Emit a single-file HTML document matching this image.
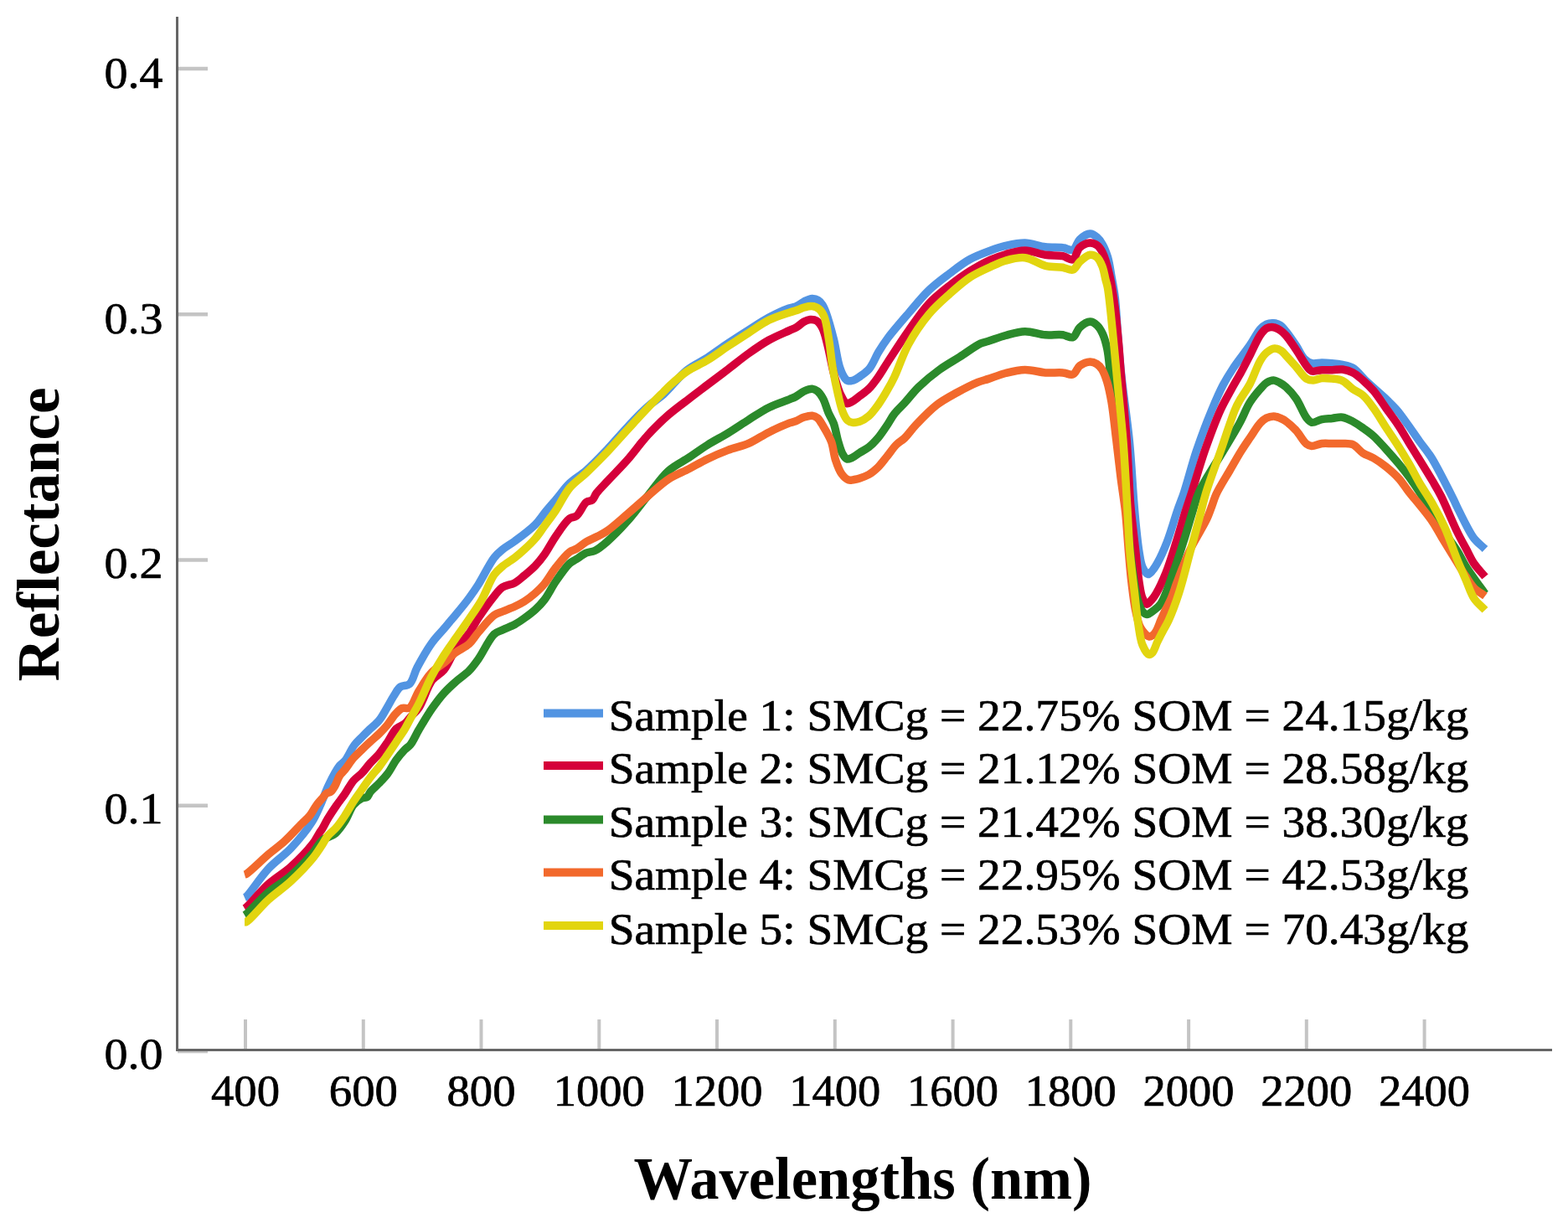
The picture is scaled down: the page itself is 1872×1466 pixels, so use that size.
<!DOCTYPE html>
<html><head><meta charset="utf-8"><title>Reflectance spectra</title>
<style>html,body{margin:0;padding:0;background:#fff;}svg{display:block;}</style></head>
<body><svg width="1872" height="1466" viewBox="0 0 1872 1466">
<rect width="1872" height="1466" fill="#fff"/>
<g fill="none">
<line x1="212" y1="1254.9" x2="248" y2="1254.9" stroke="#c4c4c4" stroke-width="4.5"/>
<line x1="212" y1="961.7" x2="248" y2="961.7" stroke="#c4c4c4" stroke-width="4.5"/>
<line x1="212" y1="668.5" x2="248" y2="668.5" stroke="#c4c4c4" stroke-width="4.5"/>
<line x1="212" y1="375.3" x2="248" y2="375.3" stroke="#c4c4c4" stroke-width="4.5"/>
<line x1="212" y1="82.1" x2="248" y2="82.1" stroke="#c4c4c4" stroke-width="4.5"/>
<line x1="293.0" y1="1217" x2="293.0" y2="1253" stroke="#c4c4c4" stroke-width="4"/>
<line x1="433.8" y1="1217" x2="433.8" y2="1253" stroke="#c4c4c4" stroke-width="4"/>
<line x1="574.5" y1="1217" x2="574.5" y2="1253" stroke="#c4c4c4" stroke-width="4"/>
<line x1="715.3" y1="1217" x2="715.3" y2="1253" stroke="#c4c4c4" stroke-width="4"/>
<line x1="856.0" y1="1217" x2="856.0" y2="1253" stroke="#c4c4c4" stroke-width="4"/>
<line x1="996.8" y1="1217" x2="996.8" y2="1253" stroke="#c4c4c4" stroke-width="4"/>
<line x1="1137.6" y1="1217" x2="1137.6" y2="1253" stroke="#c4c4c4" stroke-width="4"/>
<line x1="1278.3" y1="1217" x2="1278.3" y2="1253" stroke="#c4c4c4" stroke-width="4"/>
<line x1="1419.1" y1="1217" x2="1419.1" y2="1253" stroke="#c4c4c4" stroke-width="4"/>
<line x1="1559.8" y1="1217" x2="1559.8" y2="1253" stroke="#c4c4c4" stroke-width="4"/>
<line x1="1700.6" y1="1217" x2="1700.6" y2="1253" stroke="#c4c4c4" stroke-width="4"/>
<line x1="211.5" y1="20" x2="211.5" y2="1255" stroke="#666" stroke-width="3"/>
<line x1="210" y1="1253.5" x2="1853" y2="1253.5" stroke="#666" stroke-width="3"/>
</g>
<path d="M292.0,1071.5C292.7,1071.2 293.1,1071.2 294.0,1070.5C298.0,1067.2 311.2,1046.9 320.5,1037.0C329.0,1027.9 338.6,1021.9 347.0,1013.0C355.8,1003.6 365.7,991.8 372.0,982.0C376.9,974.3 379.6,967.4 383.0,960.0C386.3,952.7 388.4,945.4 392.0,938.0C395.8,930.1 401.4,919.1 405.5,914.0C407.8,911.1 409.8,910.8 412.0,908.0C415.5,903.7 419.2,894.5 423.0,889.5C425.9,885.6 429.0,883.1 432.0,880.0C435.0,876.9 437.8,874.1 441.0,871.0C444.6,867.5 449.2,864.2 452.6,860.0C456.2,855.6 459.0,849.9 462.0,845.0C464.8,840.3 467.2,835.3 470.0,831.0C472.6,827.0 474.6,822.4 478.0,820.0C481.1,817.8 486.0,819.2 489.0,816.5C493.2,812.8 494.3,804.1 498.0,797.0C502.8,788.0 510.0,775.3 516.0,767.0C520.7,760.5 526.0,755.4 530.0,750.7C533.1,747.1 535.5,744.0 538.0,741.0C540.1,738.5 541.6,737.0 544.0,734.0C548.1,729.1 555.3,720.4 560.0,714.0C564.1,708.4 567.0,704.3 571.0,698.0C576.6,689.2 584.2,673.1 590.0,665.7C593.5,661.2 596.2,659.1 600.0,656.0C604.3,652.5 609.2,650.0 614.6,646.0C621.8,640.7 632.4,633.0 639.0,626.4C644.4,621.0 647.7,615.2 652.0,610.0C656.0,605.1 659.7,601.0 664.0,596.0C669.0,590.2 674.0,582.7 680.0,577.0C686.0,571.2 693.2,567.5 700.0,561.5C708.0,554.5 716.5,545.5 724.6,537.0C732.9,528.3 740.7,518.7 749.0,510.0C757.1,501.4 765.9,491.9 773.7,485.0C780.1,479.4 785.5,476.8 792.0,471.0C800.6,463.3 810.5,449.6 820.0,442.0C828.1,435.5 836.5,432.3 844.6,427.0C852.8,421.6 860.8,415.5 869.0,410.0C877.2,404.5 885.5,399.2 893.7,394.0C901.8,388.9 909.8,383.4 918.0,379.0C925.9,374.8 935.9,370.2 942.0,368.0C945.7,366.7 948.1,366.8 951.0,365.5C954.1,364.2 956.9,361.5 960.0,360.0C963.1,358.5 966.5,356.6 969.5,356.5C972.1,356.4 974.9,357.2 977.0,358.5C979.1,359.7 980.6,361.8 982.0,364.0C983.6,366.5 984.5,368.8 986.0,372.7C988.7,380.1 992.7,394.5 995.5,405.5C998.2,416.4 999.6,429.7 1002.5,438.2C1004.4,443.9 1007.0,449.4 1009.0,452.0C1010.0,453.3 1010.7,454.1 1012.0,454.5C1013.8,455.1 1016.7,454.7 1019.0,454.0C1021.8,453.1 1024.4,451.0 1027.3,449.0C1030.7,446.5 1034.7,444.0 1038.0,440.0C1042.2,434.9 1045.2,426.3 1049.0,420.0C1052.5,414.2 1055.4,409.7 1060.0,403.5C1066.4,394.9 1076.3,383.6 1084.6,374.0C1092.7,364.6 1100.5,354.6 1109.0,346.5C1116.9,338.9 1125.4,332.8 1133.7,326.5C1141.7,320.5 1149.6,314.1 1158.0,309.5C1166.0,305.1 1175.2,301.8 1182.8,299.0C1189.1,296.7 1194.1,294.9 1200.5,293.4C1207.6,291.8 1215.9,289.8 1223.7,290.0C1231.7,290.2 1240.2,293.9 1248.0,294.8C1255.1,295.7 1262.7,295.0 1268.7,295.7C1273.4,296.3 1277.7,299.6 1281.0,298.2C1284.6,296.7 1285.6,289.1 1289.0,285.9C1292.4,282.8 1297.7,279.2 1301.4,279.1C1304.4,279.0 1307.2,281.2 1309.6,283.2C1312.3,285.4 1314.4,288.5 1316.4,292.0C1318.8,296.2 1320.8,301.4 1322.5,307.0C1324.5,313.8 1325.6,322.1 1327.0,330.0C1328.5,338.3 1330.1,346.0 1331.3,355.5C1332.7,367.5 1333.2,382.1 1334.3,396.4C1335.6,412.1 1336.7,427.5 1338.6,446.0C1341.0,469.5 1345.7,499.8 1348.3,526.0C1350.8,551.1 1352.3,581.9 1353.8,600.0C1354.7,610.5 1355.1,616.0 1356.0,625.0C1357.1,635.5 1358.4,649.5 1360.0,659.0C1361.2,666.0 1361.8,672.3 1364.0,677.0C1365.7,680.6 1368.3,685.3 1370.5,685.6C1372.3,685.8 1374.3,683.0 1376.0,681.0C1378.2,678.5 1380.0,675.4 1382.2,671.4C1385.6,665.2 1389.7,656.0 1393.3,646.9C1397.6,636.0 1401.8,620.8 1405.5,610.0C1408.4,601.5 1410.7,596.4 1413.7,587.4C1418.1,574.2 1422.9,554.6 1428.4,538.3C1434.0,521.8 1441.0,503.2 1446.9,489.0C1451.5,478.0 1455.5,468.7 1460.0,460.0C1463.9,452.6 1467.3,447.1 1472.0,440.0C1477.7,431.3 1486.5,420.5 1492.3,412.0C1497.0,405.1 1500.7,397.4 1504.6,393.0C1507.1,390.2 1509.3,388.2 1512.0,387.0C1514.6,385.9 1517.8,385.6 1520.5,385.8C1523.1,386.0 1525.7,386.6 1528.0,388.0C1530.7,389.6 1532.7,392.4 1535.3,395.5C1539.0,400.0 1543.8,407.1 1547.5,412.7C1551.0,417.9 1553.4,424.4 1557.0,428.0C1559.8,430.8 1562.6,432.8 1566.0,433.7C1569.6,434.6 1574.0,433.0 1578.0,433.0C1582.0,433.0 1585.9,433.3 1590.0,433.7C1594.2,434.1 1598.6,434.6 1602.8,435.5C1607.0,436.4 1610.9,436.8 1615.0,439.2C1620.6,442.5 1625.7,449.9 1631.9,455.8C1639.2,462.7 1649.8,471.5 1656.4,477.9C1661.1,482.5 1664.3,485.5 1668.2,490.0C1672.6,495.1 1676.7,501.3 1681.0,507.3C1685.6,513.6 1690.5,521.1 1694.8,527.0C1698.3,531.8 1701.9,536.2 1704.6,540.0C1706.7,543.0 1707.7,544.1 1710.0,548.0C1715.4,557.0 1729.4,584.3 1734.6,594.6C1737.1,599.6 1737.9,601.7 1740.0,606.0C1742.8,611.7 1746.6,619.7 1750.0,626.0C1753.2,632.0 1756.1,638.0 1760.0,643.0C1763.8,647.8 1768.7,651.3 1773.0,655.5" fill="none" stroke="#5294e2" stroke-width="9.5" stroke-linejoin="round" stroke-linecap="butt"/>
<path d="M292.0,1084.5C292.7,1084.1 293.0,1084.1 294.0,1083.3C297.9,1080.2 311.3,1063.7 320.5,1055.4C329.0,1047.7 338.4,1042.7 347.0,1035.0C356.2,1026.7 367.8,1014.7 373.7,1007.0C377.2,1002.4 378.9,998.3 381.0,995.0C382.5,992.6 383.6,991.3 385.0,989.0C386.9,985.9 388.6,982.0 391.0,978.0C393.9,973.1 397.9,967.1 401.4,962.0C404.8,957.1 408.2,952.9 411.6,948.0C415.1,942.9 418.3,936.4 422.0,932.0C425.1,928.3 428.8,926.3 432.0,923.0C435.5,919.4 438.5,914.9 442.0,911.0C445.4,907.2 449.2,904.0 452.6,900.0C456.2,895.7 459.5,890.7 462.8,885.8C466.3,880.7 469.1,873.7 473.0,870.0C476.1,867.0 480.3,866.4 483.2,864.0C485.9,861.7 487.5,858.9 490.0,856.0C493.0,852.6 496.6,850.0 500.0,845.0C505.3,837.2 510.0,819.9 516.0,812.0C520.3,806.4 525.7,805.0 530.0,799.8C535.3,793.3 538.8,782.5 544.0,775.0C548.9,768.0 555.4,762.4 560.0,756.0C564.3,750.1 566.7,744.5 571.0,738.0C576.3,730.0 584.5,718.4 590.0,711.7C593.7,707.2 596.0,703.6 600.0,701.0C604.1,698.3 610.2,698.2 614.6,695.8C618.8,693.5 622.1,690.2 626.0,687.0C630.2,683.5 635.0,679.7 639.0,675.5C643.0,671.3 646.3,667.2 650.0,662.0C654.5,655.7 658.7,647.1 663.7,640.0C668.7,632.8 675.0,622.7 680.0,619.0C682.9,616.9 685.5,618.0 688.2,616.0C692.3,612.9 696.1,602.4 700.0,599.5C702.4,597.7 705.0,598.6 707.0,597.0C709.3,595.2 710.0,591.5 712.3,588.5C715.4,584.4 719.8,580.2 724.6,575.0C731.3,567.8 741.0,558.3 749.0,549.2C757.4,539.7 765.2,528.3 773.7,519.1C781.7,510.4 789.8,502.5 798.2,495.2C806.2,488.2 814.8,482.1 822.8,476.0C830.3,470.2 837.1,465.1 844.6,459.4C852.5,453.4 860.9,447.2 869.0,441.0C877.2,434.7 885.4,427.9 893.7,422.0C901.7,416.3 909.7,410.6 918.0,406.0C926.1,401.5 936.8,397.2 942.8,394.4C946.3,392.8 948.3,392.3 951.0,390.7C954.0,388.9 957.0,385.6 960.0,384.0C962.5,382.7 964.8,381.7 967.3,381.5C969.8,381.3 972.7,381.6 975.0,383.0C977.7,384.7 980.0,388.2 982.0,392.0C984.7,397.2 986.0,404.3 988.0,412.0C990.7,422.2 993.0,437.3 996.0,448.0C998.5,456.9 1000.9,466.0 1004.0,472.0C1006.1,476.2 1008.3,480.9 1011.0,481.7C1013.1,482.3 1015.6,480.3 1018.0,479.0C1020.8,477.5 1023.4,475.1 1026.4,472.8C1029.8,470.2 1033.9,467.6 1037.3,464.2C1041.2,460.3 1044.6,455.5 1048.2,450.5C1052.2,444.9 1055.3,439.2 1060.0,432.0C1066.7,421.8 1076.2,406.8 1084.6,395.0C1092.6,383.7 1100.3,371.8 1109.0,362.5C1116.8,354.1 1125.3,347.6 1133.7,341.0C1141.7,334.7 1149.7,328.8 1158.0,323.6C1166.1,318.5 1175.1,313.5 1182.8,310.0C1189.1,307.2 1194.1,305.5 1200.5,303.7C1207.6,301.7 1215.9,298.8 1223.7,298.9C1231.7,299.0 1240.2,303.2 1248.0,304.3C1255.1,305.3 1262.8,304.5 1268.7,305.7C1273.4,306.6 1277.7,311.1 1281.0,309.8C1284.7,308.4 1285.4,298.8 1289.0,295.5C1292.3,292.5 1297.7,290.2 1301.4,290.0C1304.4,289.9 1307.2,291.0 1309.6,292.7C1312.3,294.6 1314.3,297.6 1316.4,301.6C1319.6,307.9 1322.3,318.3 1324.6,328.2C1327.5,340.3 1329.6,355.4 1331.4,369.1C1333.2,382.7 1334.4,397.4 1335.5,410.0C1336.5,420.8 1336.8,427.4 1337.8,440.0C1339.5,461.3 1343.2,498.4 1345.2,526.0C1347.0,551.6 1348.1,581.9 1349.5,600.0C1350.3,610.6 1351.0,616.0 1352.0,625.0C1353.1,635.7 1354.7,648.3 1356.0,660.0C1357.3,671.7 1358.4,685.1 1360.0,695.0C1361.2,702.3 1361.9,709.3 1364.0,714.0C1365.4,717.2 1367.4,721.0 1369.3,721.2C1371.1,721.4 1373.2,718.0 1375.0,716.0C1377.0,713.8 1378.4,711.7 1380.4,708.3C1383.8,702.5 1388.3,692.8 1392.0,683.7C1396.4,672.8 1400.4,659.2 1404.3,646.9C1408.2,634.6 1412.0,620.8 1415.4,610.0C1418.1,601.5 1420.0,596.4 1422.9,587.4C1427.2,574.2 1432.6,554.6 1438.3,538.3C1444.1,521.8 1451.2,502.4 1457.3,489.0C1461.7,479.4 1465.8,472.7 1470.0,465.0C1474.0,457.7 1478.1,450.9 1481.9,444.0C1485.5,437.3 1488.7,431.0 1492.3,424.0C1496.2,416.4 1500.6,405.7 1504.6,400.0C1507.1,396.4 1509.2,393.5 1512.0,392.0C1514.5,390.7 1517.8,390.3 1520.5,390.7C1523.1,391.0 1525.6,392.5 1528.0,394.0C1530.6,395.7 1532.7,397.6 1535.3,400.5C1539.1,404.7 1543.5,411.8 1547.5,417.7C1551.7,423.9 1556.2,432.3 1559.8,436.8C1562.0,439.6 1563.3,442.0 1566.0,442.9C1569.2,444.0 1574.1,441.9 1578.2,441.7C1582.3,441.5 1586.4,441.8 1590.5,441.7C1594.6,441.6 1598.8,440.5 1602.8,441.0C1606.9,441.5 1611.1,442.7 1615.0,444.7C1619.3,446.9 1623.3,450.6 1627.3,454.1C1631.6,457.9 1635.8,461.8 1640.0,466.7C1644.9,472.5 1649.6,480.1 1654.5,487.0C1659.6,494.1 1665.3,501.5 1670.0,508.6C1674.3,515.2 1678.0,521.8 1681.8,528.0C1685.4,533.9 1688.3,538.6 1692.3,545.0C1697.5,553.4 1705.1,565.6 1710.2,574.2C1714.1,580.8 1716.6,584.7 1720.3,592.0C1726.0,603.2 1734.3,623.9 1740.0,635.5C1743.8,643.4 1746.9,648.6 1750.3,655.0C1753.6,661.1 1756.2,667.4 1760.0,673.0C1763.8,678.6 1768.7,683.3 1773.0,688.5" fill="none" stroke="#d5003a" stroke-width="9.5" stroke-linejoin="round" stroke-linecap="butt"/>
<path d="M292.0,1092.5C292.7,1092.1 293.0,1092.1 294.0,1091.3C297.9,1088.3 311.4,1072.8 320.5,1065.0C329.1,1057.7 338.5,1053.0 347.0,1045.6C356.2,1037.5 366.9,1026.0 373.7,1018.0C378.5,1012.4 380.4,1006.9 385.0,1003.0C389.4,999.3 395.9,998.7 400.3,995.0C404.9,991.1 408.5,985.5 412.0,980.0C415.8,974.2 418.1,965.7 422.0,961.0C425.0,957.4 428.9,954.5 432.0,953.0C434.2,951.9 436.5,952.7 438.2,951.5C440.0,950.2 440.5,947.4 442.3,945.2C444.8,942.1 449.2,938.5 452.6,935.0C456.1,931.4 459.6,928.0 462.8,923.7C466.4,918.9 469.4,912.3 473.0,907.3C476.3,902.8 480.0,898.3 483.2,895.0C485.6,892.5 487.7,891.8 490.0,889.0C493.4,884.8 496.2,877.7 500.0,871.3C504.6,863.5 510.6,853.3 516.0,845.6C520.7,838.9 525.1,832.9 530.0,827.5C534.5,822.5 539.1,818.4 544.0,814.0C549.1,809.5 555.4,805.5 560.0,800.8C564.3,796.5 567.0,792.6 571.0,787.0C576.7,779.1 583.9,762.6 590.0,757.1C593.4,754.0 596.3,753.8 600.0,752.0C604.4,749.9 610.1,747.9 614.6,745.5C618.7,743.2 622.1,740.8 626.0,738.0C630.3,734.9 635.1,731.4 639.1,727.7C643.1,724.1 646.4,720.7 650.0,716.0C654.6,710.0 658.7,701.1 663.7,693.9C668.7,686.6 675.1,677.0 680.0,672.6C682.9,669.9 685.2,669.4 688.2,667.5C691.8,665.2 696.1,661.7 700.0,660.0C703.4,658.6 706.5,659.1 710.0,657.5C714.6,655.3 719.3,651.4 724.6,646.8C731.9,640.5 741.1,631.1 749.0,622.2C757.5,612.7 765.4,601.6 773.7,591.5C781.8,581.5 789.4,569.8 798.2,562.0C805.9,555.1 814.9,551.3 822.8,546.0C830.3,541.0 837.0,535.9 844.6,531.2C852.4,526.3 860.9,522.0 869.0,517.1C877.3,512.1 885.5,506.4 893.7,501.2C901.8,496.1 909.7,490.5 918.0,486.4C926.1,482.4 937.0,479.0 942.8,476.6C945.9,475.3 947.5,474.9 950.0,473.5C953.1,471.8 956.6,468.6 960.0,467.0C963.1,465.6 966.8,464.0 969.6,464.2C972.0,464.4 974.0,465.4 976.0,467.0C978.5,469.0 980.7,472.4 982.7,476.0C985.2,480.6 986.8,487.6 989.0,492.7C991.0,497.3 993.5,500.6 995.3,505.5C997.6,511.7 998.8,520.8 1000.8,527.3C1002.4,532.7 1003.9,538.3 1006.0,542.0C1007.5,544.6 1009.0,547.4 1011.1,548.0C1013.1,548.6 1015.7,547.1 1018.0,546.0C1020.8,544.7 1023.4,542.3 1026.4,540.4C1029.8,538.3 1033.8,536.5 1037.3,533.8C1041.1,530.8 1044.7,527.0 1048.2,522.9C1052.0,518.4 1055.7,512.6 1059.1,507.6C1062.2,503.0 1064.4,498.3 1067.8,494.0C1071.3,489.4 1075.6,485.8 1080.0,481.0C1085.2,475.3 1090.4,468.2 1096.8,462.0C1104.0,455.0 1113.0,447.6 1121.4,441.5C1129.4,435.7 1137.7,431.2 1145.9,426.0C1154.1,420.8 1164.0,413.1 1170.5,410.1C1174.3,408.4 1176.2,408.5 1180.0,407.3C1185.5,405.6 1193.4,402.4 1200.5,400.5C1207.9,398.5 1215.9,395.8 1223.7,395.7C1231.7,395.6 1240.2,399.1 1248.0,399.8C1255.2,400.4 1262.7,399.1 1268.7,399.8C1273.4,400.3 1277.7,403.9 1281.0,402.6C1284.5,401.2 1285.6,394.1 1289.0,391.0C1292.4,387.9 1297.7,384.2 1301.4,384.1C1304.4,384.0 1307.2,386.1 1309.6,388.2C1312.4,390.6 1314.5,394.4 1316.4,398.5C1318.8,403.6 1320.5,410.1 1321.9,416.9C1323.6,425.0 1324.2,434.8 1325.3,444.2C1326.5,454.2 1327.7,463.8 1329.0,475.0C1330.6,488.6 1332.2,504.6 1334.0,520.0C1335.9,536.2 1338.0,552.9 1340.0,570.0C1342.0,587.9 1344.0,606.7 1346.0,625.0C1348.0,643.3 1349.7,663.8 1352.0,680.0C1353.8,693.0 1355.4,705.9 1358.0,715.0C1359.7,721.2 1361.5,726.9 1364.0,730.0C1365.6,731.9 1367.4,733.4 1369.3,733.5C1371.6,733.6 1374.4,730.9 1377.0,729.0C1380.0,726.8 1383.0,724.8 1385.9,720.6C1391.1,713.0 1396.1,696.1 1400.6,683.7C1405.1,671.5 1409.0,659.2 1412.9,646.9C1416.8,634.6 1420.6,620.8 1424.0,610.0C1426.7,601.5 1427.5,596.1 1431.5,587.4C1437.6,574.0 1451.3,553.7 1460.0,539.0C1467.3,526.7 1474.3,515.5 1480.0,505.0C1484.8,496.2 1487.8,487.4 1492.3,480.3C1496.1,474.2 1500.9,468.6 1504.6,464.4C1507.3,461.4 1509.2,458.7 1512.0,457.0C1514.6,455.4 1517.8,453.9 1520.5,454.0C1523.1,454.1 1525.6,455.7 1528.0,457.0C1530.5,458.3 1532.7,459.7 1535.3,462.0C1539.0,465.3 1543.7,470.5 1547.5,476.0C1552.0,482.5 1556.0,494.0 1559.8,498.8C1562.0,501.5 1563.4,503.7 1566.0,504.3C1569.2,505.0 1574.1,501.4 1578.2,500.6C1582.3,499.8 1586.4,499.8 1590.5,499.4C1594.6,499.0 1598.8,497.6 1602.8,498.2C1606.9,498.8 1611.0,501.0 1615.0,503.1C1619.2,505.3 1623.2,508.1 1627.3,511.0C1631.6,514.0 1635.8,516.9 1640.0,520.7C1644.8,525.1 1649.6,530.7 1654.5,536.0C1659.6,541.7 1665.2,548.0 1670.0,553.8C1674.3,559.0 1678.0,563.6 1682.0,569.0C1686.3,574.9 1690.6,581.2 1695.0,588.0C1699.9,595.5 1705.0,604.0 1710.0,612.0C1715.0,620.0 1719.9,628.2 1725.0,636.0C1729.9,643.5 1735.6,650.9 1740.0,658.0C1743.8,664.2 1746.5,670.4 1750.0,676.0C1753.2,681.2 1756.4,685.6 1760.0,690.7C1764.0,696.4 1768.7,702.8 1773.0,708.8" fill="none" stroke="#2b8a2b" stroke-width="9.5" stroke-linejoin="round" stroke-linecap="butt"/>
<path d="M292.0,1044.0C292.7,1043.8 293.0,1043.9 294.0,1043.4C297.9,1041.2 312.3,1026.9 320.5,1019.9C327.4,1014.0 333.6,1009.9 340.0,1004.0C346.9,997.7 355.0,988.6 360.5,983.0C364.3,979.2 367.1,977.1 370.0,973.5C373.0,969.8 375.3,964.6 378.0,961.0C380.3,957.9 382.9,955.3 385.0,952.8C386.8,950.7 388.2,948.3 390.0,947.0C391.5,945.9 393.5,946.2 395.0,945.0C396.9,943.5 398.4,940.7 400.0,938.0C402.0,934.6 403.3,929.3 405.5,926.0C407.3,923.2 409.4,921.8 411.6,919.0C414.7,915.2 418.4,909.2 422.0,905.0C425.2,901.3 428.6,898.3 432.0,895.0C435.3,891.8 438.6,888.6 442.0,885.5C445.5,882.3 449.2,879.3 452.6,876.0C455.9,872.8 458.9,869.7 462.0,866.0C465.4,861.9 468.7,856.1 472.0,852.5C474.7,849.6 477.0,846.7 480.0,845.5C482.7,844.4 486.3,846.7 489.0,845.0C493.3,842.3 495.8,831.8 500.0,825.0C504.7,817.5 510.3,807.8 516.0,802.0C520.5,797.4 525.4,795.3 530.0,791.6C534.8,787.7 539.0,782.8 544.0,779.0C549.0,775.2 555.4,772.9 560.0,768.8C564.4,764.8 566.7,760.0 571.0,755.0C576.4,748.7 584.3,738.5 590.0,734.4C593.6,731.8 596.3,731.6 600.0,730.0C604.4,728.1 610.1,726.1 614.6,724.0C618.7,722.1 622.2,720.4 626.0,718.0C630.3,715.2 635.0,711.6 639.1,708.0C643.0,704.5 646.4,701.4 650.0,697.0C654.5,691.5 658.7,683.6 663.7,677.3C668.7,670.9 675.1,662.6 680.0,659.0C682.9,656.8 685.3,656.9 688.2,655.2C691.9,653.1 695.9,649.3 700.0,646.8C704.1,644.4 708.6,642.7 712.8,640.5C716.8,638.4 720.1,637.1 724.6,634.0C731.5,629.3 741.0,620.5 749.1,613.6C757.3,606.6 765.5,599.1 773.7,592.1C781.8,585.2 789.7,577.4 798.2,571.9C806.1,566.8 814.9,563.7 822.8,559.6C830.3,555.7 837.0,551.6 844.6,548.0C852.5,544.2 860.9,540.5 869.1,537.4C877.2,534.3 885.7,532.9 893.7,529.4C902.1,525.8 909.9,520.0 918.2,515.9C926.3,511.9 937.0,507.1 942.8,504.9C945.9,503.8 947.4,503.7 950.0,502.7C953.1,501.5 956.6,499.1 960.0,498.0C963.2,497.0 966.8,495.9 969.6,496.2C972.0,496.5 974.0,497.4 976.0,499.0C978.5,501.1 980.4,504.9 982.7,508.7C985.8,513.8 990.0,520.7 992.5,527.3C995.0,534.1 995.3,542.3 997.5,549.0C999.5,555.1 1001.9,561.8 1005.0,566.0C1007.4,569.2 1010.5,572.2 1013.3,573.1C1015.5,573.8 1017.8,572.9 1020.0,572.5C1022.2,572.1 1024.0,571.7 1026.4,570.9C1029.6,569.9 1033.8,568.5 1037.3,566.5C1041.1,564.3 1044.7,561.2 1048.2,557.8C1052.0,554.0 1055.5,549.1 1059.1,544.7C1062.8,540.2 1066.2,534.8 1070.0,531.0C1073.2,527.8 1076.6,526.3 1080.0,523.0C1084.4,518.7 1088.3,512.7 1093.7,507.0C1100.5,499.8 1109.7,490.1 1118.2,483.5C1126.1,477.4 1134.5,473.1 1142.8,468.5C1150.9,464.1 1160.4,459.2 1167.3,456.4C1172.1,454.5 1175.3,453.9 1180.0,452.4C1186.0,450.4 1193.4,447.3 1200.5,445.5C1207.9,443.6 1215.9,441.5 1223.7,441.4C1231.7,441.3 1240.4,444.3 1248.2,444.9C1255.3,445.4 1262.8,444.4 1268.7,444.9C1273.3,445.3 1277.6,448.2 1281.0,446.9C1284.5,445.6 1285.7,439.2 1289.1,436.7C1292.5,434.2 1297.7,432.0 1301.4,431.9C1304.4,431.8 1307.2,433.1 1309.6,434.6C1312.0,436.1 1313.8,438.2 1315.6,441.0C1318.1,444.9 1320.1,450.7 1321.9,456.5C1324.0,463.4 1325.4,470.8 1327.0,480.0C1329.2,492.7 1330.9,510.8 1332.8,526.0C1334.6,540.8 1336.2,555.5 1338.0,570.0C1339.8,584.2 1342.1,597.6 1343.7,612.0C1345.3,627.2 1346.2,644.3 1347.5,659.0C1348.6,672.1 1349.5,683.9 1351.0,696.0C1352.4,707.6 1353.8,720.2 1356.0,730.0C1357.7,737.6 1358.9,744.8 1362.0,750.0C1364.5,754.3 1369.0,759.2 1371.8,759.9C1373.4,760.3 1374.7,759.3 1376.0,758.5C1377.5,757.5 1378.7,756.1 1380.0,754.0C1382.1,750.7 1384.1,744.4 1386.0,740.0C1387.7,736.1 1389.2,732.8 1391.0,729.0C1393.0,724.8 1395.4,720.8 1397.5,716.0C1400.0,710.3 1402.1,703.5 1404.5,697.0C1407.1,690.2 1409.6,683.0 1412.5,676.0C1415.5,668.7 1418.5,661.1 1422.0,654.0C1425.4,647.1 1429.6,640.2 1433.0,634.0C1435.9,628.7 1438.7,624.0 1441.0,619.0C1443.2,614.3 1444.7,609.8 1446.5,605.0C1448.4,600.1 1449.4,595.6 1452.0,590.0C1455.7,582.0 1462.8,570.9 1468.0,562.0C1472.8,553.8 1477.5,545.3 1481.9,538.3C1485.5,532.5 1488.7,528.0 1492.3,522.7C1496.2,517.0 1500.7,509.2 1504.6,505.0C1507.2,502.2 1509.3,500.4 1512.0,499.0C1514.6,497.7 1517.8,496.9 1520.5,496.9C1523.1,496.9 1525.6,498.0 1528.0,499.0C1530.5,500.0 1532.7,501.1 1535.3,503.0C1539.0,505.6 1543.6,509.8 1547.5,514.0C1551.8,518.7 1556.0,527.1 1559.8,530.0C1562.0,531.7 1563.6,532.3 1566.0,532.5C1569.4,532.7 1574.1,530.0 1578.2,529.5C1582.3,529.0 1586.4,529.5 1590.5,529.5C1594.6,529.5 1598.7,529.3 1602.8,529.5C1606.9,529.7 1611.2,529.1 1615.0,530.7C1619.4,532.5 1623.0,538.2 1627.3,541.0C1631.3,543.6 1635.7,544.5 1640.0,547.0C1644.8,549.8 1649.7,553.2 1654.5,557.0C1659.7,561.2 1665.4,566.1 1670.0,571.2C1674.5,576.1 1677.7,581.8 1681.8,587.0C1686.0,592.4 1690.5,597.3 1695.0,603.0C1699.9,609.2 1705.7,616.1 1710.2,622.8C1714.5,629.1 1717.3,634.9 1721.6,642.0C1727.0,650.9 1734.8,663.6 1740.0,672.0C1743.8,678.2 1746.6,682.9 1750.0,688.0C1753.3,692.9 1756.1,698.0 1760.0,702.0C1763.8,705.8 1768.7,708.3 1773.0,711.5" fill="none" stroke="#f2692c" stroke-width="9.5" stroke-linejoin="round" stroke-linecap="butt"/>
<path d="M292.0,1100.5C292.7,1100.5 293.1,1101.0 294.0,1100.6C298.0,1099.1 311.5,1082.2 320.5,1074.0C329.1,1066.2 338.4,1060.3 347.0,1052.3C356.2,1043.8 366.9,1032.6 373.7,1024.3C378.6,1018.3 381.8,1012.8 385.0,1008.0C387.4,1004.3 388.6,1001.2 391.2,998.0C394.0,994.5 398.1,991.8 401.4,988.0C405.0,983.9 408.3,979.0 411.6,974.0C415.1,968.7 418.4,962.4 421.9,957.0C425.2,951.9 428.6,947.3 432.0,942.5C435.4,937.6 438.8,932.4 442.3,927.8C445.6,923.4 449.3,919.8 452.6,915.5C456.1,910.9 459.4,905.9 462.8,901.0C466.2,896.0 469.6,890.9 473.0,885.8C476.4,880.7 480.2,875.4 483.2,870.5C485.8,866.2 487.5,862.5 490.0,858.0C493.0,852.6 496.5,847.1 500.0,840.2C504.7,831.1 509.8,818.0 515.0,808.0C519.8,798.9 524.9,790.4 530.0,782.4C534.6,775.1 539.2,769.0 544.0,762.0C549.1,754.6 554.8,746.9 560.0,739.2C565.1,731.6 570.2,724.6 575.0,716.3C580.3,707.1 584.9,693.1 590.0,686.0C593.3,681.4 596.2,679.2 600.0,676.0C604.3,672.4 610.1,669.2 614.6,665.7C618.7,662.5 622.1,659.6 626.0,656.0C630.3,652.1 635.0,647.7 639.0,643.0C643.0,638.3 646.1,633.3 650.0,628.0C654.3,622.0 659.1,615.9 663.7,609.0C669.0,601.0 673.7,590.2 680.0,582.6C685.9,575.5 693.1,571.1 700.0,564.5C707.9,557.0 716.5,548.5 724.6,540.0C732.9,531.3 740.9,521.9 749.1,513.0C757.3,504.1 766.0,494.5 773.7,486.5C780.2,479.7 787.1,472.9 792.0,468.0C795.2,464.8 796.6,463.1 800.0,460.0C805.1,455.4 812.7,448.4 820.0,443.5C827.6,438.4 836.5,434.9 844.6,430.0C852.9,424.9 860.9,418.8 869.1,413.4C877.3,408.0 885.5,402.6 893.7,397.4C901.9,392.2 909.8,386.2 918.2,382.1C926.2,378.2 936.8,375.0 942.8,373.0C946.2,371.8 948.2,371.5 951.0,370.5C953.9,369.5 956.9,367.8 960.0,367.0C963.1,366.2 966.5,365.2 969.5,365.6C972.5,365.9 975.6,367.1 978.0,369.0C980.6,371.1 982.3,374.0 984.0,378.0C986.7,384.5 988.0,395.9 989.6,405.5C991.4,415.9 992.2,427.3 994.0,438.2C995.8,449.1 998.2,461.1 1000.5,470.9C1002.4,478.9 1004.1,487.1 1006.5,492.7C1008.1,496.6 1009.8,500.1 1012.0,502.0C1013.7,503.5 1015.5,504.1 1017.6,504.4C1020.2,504.8 1023.4,504.3 1026.4,503.3C1030.0,502.1 1033.9,499.6 1037.3,496.7C1041.2,493.3 1044.7,488.4 1048.2,483.6C1052.0,478.3 1055.8,472.0 1059.1,466.2C1062.3,460.8 1064.6,456.7 1067.8,450.0C1072.7,439.9 1077.8,423.4 1084.6,411.0C1091.5,398.4 1100.4,385.4 1109.1,375.0C1116.9,365.7 1125.3,358.5 1133.7,351.0C1141.7,343.8 1149.7,336.5 1158.2,331.0C1166.1,325.8 1175.2,322.0 1182.8,318.5C1189.1,315.6 1194.1,313.0 1200.5,311.2C1207.6,309.2 1216.0,306.8 1223.7,307.7C1231.9,308.6 1240.3,315.4 1248.2,317.3C1255.2,319.0 1262.8,318.4 1268.7,319.3C1273.3,320.0 1277.6,323.1 1281.0,322.0C1284.4,320.9 1285.9,315.4 1289.1,312.5C1292.6,309.4 1297.6,304.8 1301.4,304.3C1304.3,303.9 1307.3,305.1 1309.6,307.0C1312.4,309.3 1314.3,313.9 1316.0,318.0C1317.9,322.7 1318.8,329.3 1320.0,334.0C1320.9,337.7 1321.7,339.3 1322.5,344.0C1324.4,354.6 1326.6,378.8 1328.4,396.4C1330.2,414.2 1331.6,430.6 1333.5,450.0C1335.7,473.1 1338.8,500.0 1340.9,526.0C1343.1,553.3 1344.6,585.7 1346.1,610.0C1347.2,628.5 1347.6,642.7 1349.0,659.0C1350.4,675.4 1352.8,693.1 1354.6,708.3C1356.1,721.4 1357.1,734.0 1358.9,745.0C1360.4,754.2 1361.2,763.5 1364.0,770.0C1366.0,774.8 1369.3,780.8 1371.8,781.4C1373.3,781.7 1374.7,780.4 1376.0,779.0C1378.2,776.5 1379.9,770.2 1381.9,766.0C1383.9,761.9 1385.9,758.1 1388.0,754.0C1390.2,749.7 1392.5,746.4 1395.0,741.0C1398.8,732.7 1403.5,720.4 1407.4,708.3C1412.2,693.7 1416.7,674.6 1420.9,659.1C1424.7,645.3 1428.2,632.4 1431.5,620.0C1434.5,608.6 1436.5,599.3 1440.1,587.4C1444.6,572.6 1451.6,554.7 1457.3,538.3C1463.0,521.9 1470.1,499.5 1474.5,489.0C1476.6,483.9 1477.7,482.1 1480.0,478.0C1483.2,472.3 1488.4,465.5 1492.3,458.2C1496.7,449.9 1500.6,437.3 1504.6,430.6C1507.1,426.4 1509.1,423.5 1512.0,421.0C1514.8,418.6 1518.5,416.1 1521.7,415.9C1524.5,415.7 1527.7,417.5 1530.0,419.0C1532.2,420.4 1533.2,422.2 1535.3,424.5C1538.6,428.0 1543.4,433.4 1547.5,438.0C1551.6,442.6 1555.7,449.6 1559.8,452.1C1562.5,453.7 1565.1,454.0 1568.0,454.0C1571.2,454.0 1574.6,451.8 1578.2,451.5C1582.1,451.1 1586.4,451.6 1590.5,452.1C1594.6,452.6 1598.9,452.8 1602.8,454.6C1607.1,456.6 1610.8,461.5 1615.0,464.4C1619.0,467.2 1623.4,468.6 1627.3,472.0C1631.9,476.0 1635.8,481.7 1640.0,487.5C1644.9,494.2 1649.6,502.4 1654.5,510.0C1659.6,517.8 1665.3,526.0 1670.0,533.5C1674.3,540.3 1677.8,546.1 1681.8,553.0C1686.2,560.5 1690.3,569.0 1695.0,577.0C1699.8,585.1 1705.3,592.8 1710.2,601.3C1715.4,610.4 1720.3,619.6 1725.0,630.0C1730.3,641.8 1735.4,657.5 1740.0,668.7C1743.6,677.5 1746.6,684.3 1750.0,692.0C1753.3,699.6 1755.8,708.3 1760.0,714.6C1763.7,720.1 1768.7,723.7 1773.0,728.3" fill="none" stroke="#e2d50f" stroke-width="9.5" stroke-linejoin="round" stroke-linecap="butt"/>
<g font-family="'Liberation Serif', serif" font-size="52" fill="#000" stroke="#000" stroke-width="0.7">
<text x="194.5" y="1275.7" text-anchor="end" textLength="70" lengthAdjust="spacingAndGlyphs">0.0</text>
<text x="194.5" y="982.9" text-anchor="end" textLength="70" lengthAdjust="spacingAndGlyphs">0.1</text>
<text x="194.5" y="690.3" text-anchor="end" textLength="70" lengthAdjust="spacingAndGlyphs">0.2</text>
<text x="194.5" y="397.5" text-anchor="end" textLength="70" lengthAdjust="spacingAndGlyphs">0.3</text>
<text x="194.5" y="104.7" text-anchor="end" textLength="70" lengthAdjust="spacingAndGlyphs">0.4</text>
<text x="293.0" y="1320" text-anchor="middle" textLength="82" lengthAdjust="spacingAndGlyphs">400</text>
<text x="433.8" y="1320" text-anchor="middle" textLength="82" lengthAdjust="spacingAndGlyphs">600</text>
<text x="574.5" y="1320" text-anchor="middle" textLength="82" lengthAdjust="spacingAndGlyphs">800</text>
<text x="715.3" y="1320" text-anchor="middle" textLength="109" lengthAdjust="spacingAndGlyphs">1000</text>
<text x="856.0" y="1320" text-anchor="middle" textLength="109" lengthAdjust="spacingAndGlyphs">1200</text>
<text x="996.8" y="1320" text-anchor="middle" textLength="109" lengthAdjust="spacingAndGlyphs">1400</text>
<text x="1137.6" y="1320" text-anchor="middle" textLength="109" lengthAdjust="spacingAndGlyphs">1600</text>
<text x="1278.3" y="1320" text-anchor="middle" textLength="109" lengthAdjust="spacingAndGlyphs">1800</text>
<text x="1419.1" y="1320" text-anchor="middle" textLength="109" lengthAdjust="spacingAndGlyphs">2000</text>
<text x="1559.8" y="1320" text-anchor="middle" textLength="109" lengthAdjust="spacingAndGlyphs">2200</text>
<text x="1700.6" y="1320" text-anchor="middle" textLength="109" lengthAdjust="spacingAndGlyphs">2400</text>
</g>
<text x="1030" y="1431" text-anchor="middle" font-family="'Liberation Serif', serif" font-weight="bold" font-size="72" textLength="547" lengthAdjust="spacingAndGlyphs">Wavelengths (nm)</text>
<text transform="translate(70.2,638) rotate(-90)" x="0" y="0" text-anchor="middle" font-family="'Liberation Serif', serif" font-weight="bold" font-size="71" textLength="351" lengthAdjust="spacingAndGlyphs">Reflectance</text>
<line x1="649" y1="851.5" x2="720" y2="851.5" stroke="#5294e2" stroke-width="10"/>
<text x="726.7" y="872.3" font-family="'Liberation Serif', serif" font-size="52" stroke="#000" stroke-width="0.7" textLength="1026.8" lengthAdjust="spacingAndGlyphs">Sample 1: SMCg = 22.75% SOM = 24.15g/kg</text>
<line x1="649" y1="914" x2="720" y2="914" stroke="#d5003a" stroke-width="10"/>
<text x="726.7" y="934.8" font-family="'Liberation Serif', serif" font-size="52" stroke="#000" stroke-width="0.7" textLength="1026.8" lengthAdjust="spacingAndGlyphs">Sample 2: SMCg = 21.12% SOM = 28.58g/kg</text>
<line x1="649" y1="978.5" x2="720" y2="978.5" stroke="#2b8a2b" stroke-width="10"/>
<text x="726.7" y="999.3" font-family="'Liberation Serif', serif" font-size="52" stroke="#000" stroke-width="0.7" textLength="1026.8" lengthAdjust="spacingAndGlyphs">Sample 3: SMCg = 21.42% SOM = 38.30g/kg</text>
<line x1="649" y1="1041.5" x2="720" y2="1041.5" stroke="#f2692c" stroke-width="10"/>
<text x="726.7" y="1062.3" font-family="'Liberation Serif', serif" font-size="52" stroke="#000" stroke-width="0.7" textLength="1026.8" lengthAdjust="spacingAndGlyphs">Sample 4: SMCg = 22.95% SOM = 42.53g/kg</text>
<line x1="649" y1="1105" x2="720" y2="1105" stroke="#e2d50f" stroke-width="10"/>
<text x="726.7" y="1126.8" font-family="'Liberation Serif', serif" font-size="52" stroke="#000" stroke-width="0.7" textLength="1026.8" lengthAdjust="spacingAndGlyphs">Sample 5: SMCg = 22.53% SOM = 70.43g/kg</text>
</svg></body></html>
